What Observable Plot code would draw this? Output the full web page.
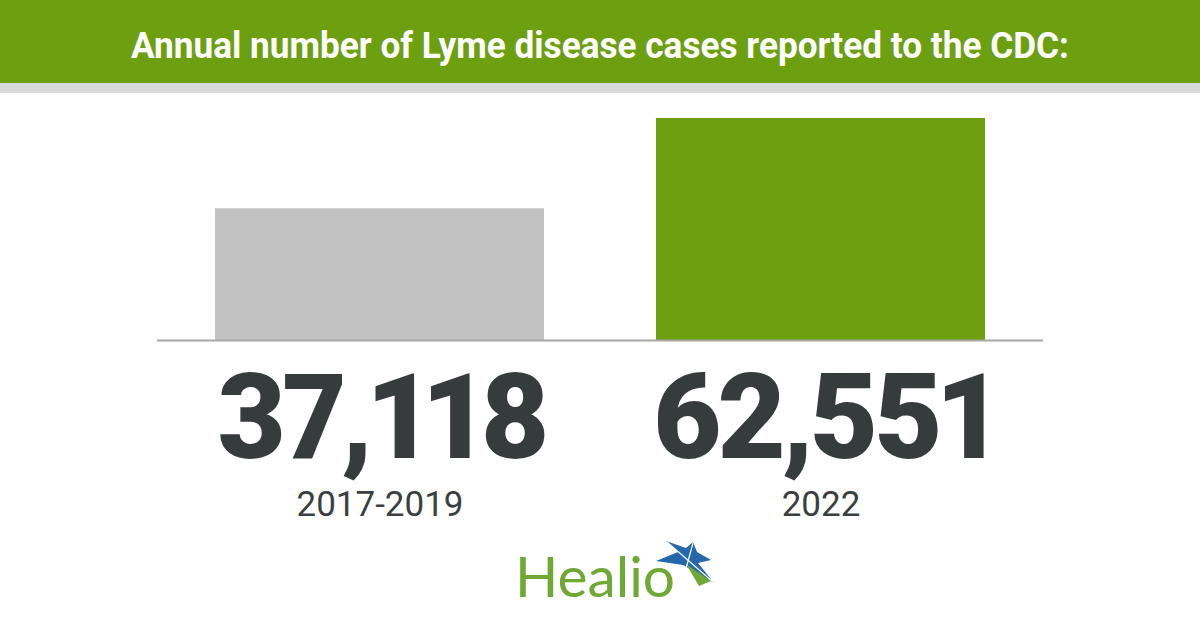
<!DOCTYPE html>
<html>
<head>
<meta charset="utf-8">
<script src="https://cdn.jsdelivr.net/npm/d3@7"></script>
<script src="https://cdn.jsdelivr.net/npm/@observablehq/plot@0.6"></script>
<style>
  html, body { margin: 0; padding: 0; background: #ffffff; }
  #page { position: relative; width: 1200px; height: 630px; overflow: hidden; background: #fff; }
  #header, #chart svg { display: block; }
  #logo { position: absolute; left: 500px; top: 530px; }
  .bignum text { letter-spacing: -4px; font-variant-numeric: proportional-nums; font-feature-settings: "pnum" 1; }
</style>
</head>
<body>
<div id="page">
  <svg id="header" width="1200" height="93">
    <rect x="0" y="0" width="1200" height="83" fill="#6ca010"></rect>
    <rect x="0" y="83" width="1200" height="10" fill="#dadada"></rect>
    <text x="600" y="58" text-anchor="middle" fill="#ffffff" font-family="Roboto" font-weight="700" font-size="36" textLength="938" lengthAdjust="spacingAndGlyphs">Annual number of Lyme disease cases reported to the CDC:</text>
  </svg>
  <div id="chart"></div>
  <svg id="logo" width="230" height="80" viewBox="500 530 230 80">
    <text x="515" y="597" fill="#6fa832" font-family="Lato" font-size="57" textLength="160" lengthAdjust="spacingAndGlyphs">Healio</text>
    <polygon points="656,561 678,552 666,541 686,548 693,542 697,552 711,560 698,563 714,583 683,565" fill="#2467ad"></polygon>
    <polygon points="686,564 699,586 711,581" fill="#6fa832"></polygon>
    <line x1="667" y1="542" x2="713" y2="582" stroke="#ffffff" stroke-width="1.2"></line>
    <line x1="693" y1="543" x2="685" y2="572" stroke="#ffffff" stroke-width="1.2"></line>
  </svg>
</div>
<script>
// Data
const categories = ["2017-2019", "2022"];
const cases = [37118, 62551];
const barColors = ["#c2c2c2", "#6ca010"];

const data = categories.map((c, i) => ({ category: c, cases: cases[i], color: barColors[i] }));
const fmt = d3.format(",");

const chart = Plot.plot({
  width: 1200,
  height: 537,
  marginTop: 25,
  marginBottom: 290,
  marginLeft: 157,
  marginRight: 157,
  style: { background: "transparent", fontFamily: "Roboto" },
  x: { domain: categories, paddingInner: 0.254, paddingOuter: 0.1315, axis: null },
  y: { domain: [0, d3.max(cases)], axis: null },
  color: { type: "identity" },
  marks: [
    Plot.barY(data, { x: "category", y: "cases", fill: "color" }),
    Plot.ruleY([0], { stroke: "#a8a8a8", strokeWidth: 2 }),
    Plot.text(data, {
      x: "category", y: 0, text: d => fmt(d.cases),
      dy: 117, dx: 2, lineAnchor: "bottom", className: "bignum",
      fontSize: 118, fontWeight: 900, fill: "#363b3c", fontFamily: "Roboto"
    }),
    Plot.text(data, {
      x: "category", y: 0, text: "category",
      dy: 175, lineAnchor: "bottom",
      fontSize: 35, fill: "#3b3f40", fontFamily: "Roboto"
    })
  ]
});
document.getElementById("chart").appendChild(chart);
</script>
</body>
</html>
